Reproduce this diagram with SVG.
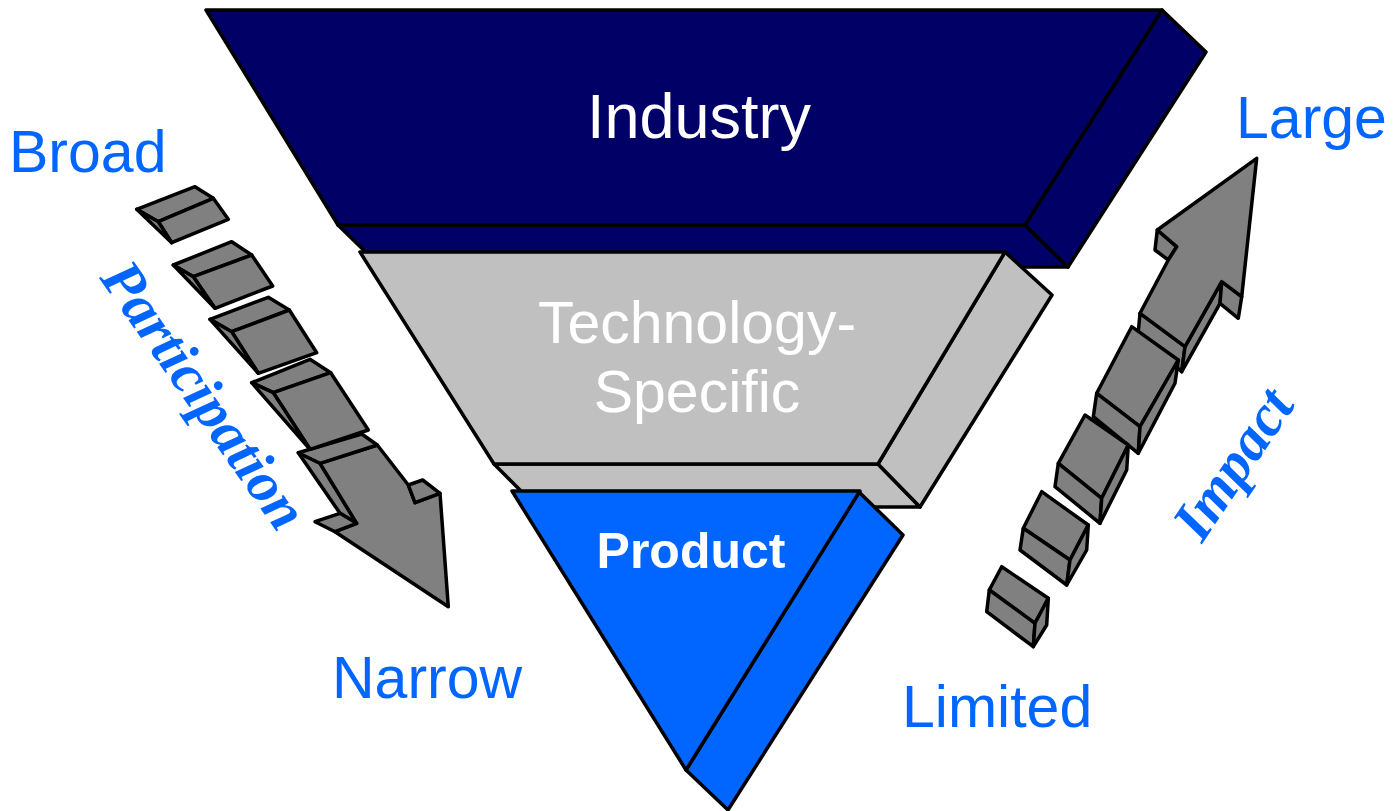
<svg xmlns="http://www.w3.org/2000/svg" width="1395" height="811" viewBox="0 0 1395 811">
<style>
.s{stroke:#000;stroke-width:3.5;stroke-linejoin:round}
.navy{fill:#000066}
.lg{fill:#C0C0C0}
.bl{fill:#0066FF}
.dg{fill:#808080}
.lbl{font-family:"Liberation Sans",Arial,sans-serif;fill:#0066FF;font-size:59px}
.in{font-family:"Liberation Sans",Arial,sans-serif;fill:#FFFFFF;text-anchor:middle}
.ax{font-family:"Liberation Serif","Times New Roman",serif;font-weight:bold;font-style:italic;fill:#0066FF;font-size:58px}
</style>
<rect width="1395" height="811" fill="#FFFFFF"/>
<g id="industry">
<polygon class="s navy" points="338,225 1025,225 1068,267 381,267"/>
<polygon class="s navy" points="1162,10 1206,52 1068,267 1025,225"/>
<polygon class="s navy" points="206,10 1162,10 1025,225 338,225"/>
<text class="in" x="699" y="138" font-size="63">Industry</text>
</g>
<g id="technology">
<polygon class="s lg" points="494,464 878,464 920,507 537,507"/>
<polygon class="s lg" points="1005,252 1052,295 920,507 878,464"/>
<polygon class="s lg" points="360,252 1005,252 878,464 494,464"/>
<text class="in" x="697" y="343" font-size="59">Technology-</text>
<text class="in" x="697" y="412" font-size="59">Specific</text>
</g>
<g id="product">
<polygon class="s bl" points="859,492 903,535 728,810 686,770"/>
<polygon class="s bl" points="512,491 860,491 686,770"/>
<text class="in" x="691" y="568" font-size="50" font-weight="bold">Product</text>
</g>
<g id="participation-arrow">
<polygon class="s dg" points="298.3,452.7 320,463.3 356.7,523.3 340,513.3"/>
<polygon class="s dg" points="320,463.3 377.3,445 408.3,485 415,502.7 440,493.3 448.3,606.7 335,531.7 356.7,523.3"/>
<polygon class="s dg" points="298.3,452.7 361.7,434 377.3,445 320,463.3"/>
<polygon class="s dg" points="315,521.7 340,513.3 356.7,523.3 335,531.7"/>
<polygon class="s dg" points="408.3,485 422.7,480 440,493.3 415,502.7"/>
<polygon class="s dg" points="251.7,382.7 310,359.3 330.7,372.7 273.3,392.7"/>
<polygon class="s dg" points="273.3,392.7 330.7,372.7 368.3,430 310,449.3"/>
<polygon class="s dg" points="251.7,382.7 273.3,392.7 310,449.3"/>
<polygon class="s dg" points="210,319.3 268.3,297.3 289.3,310 231.7,331.7"/>
<polygon class="s dg" points="231.7,331.7 289.3,310 316.7,352.7 258.3,373.3"/>
<polygon class="s dg" points="210,319.3 231.7,331.7 258.3,373.3"/>
<polygon class="s dg" points="173.3,265 231.7,241.7 251.7,255 193.3,276.7"/>
<polygon class="s dg" points="193.3,276.7 251.7,255 272.7,286 215,308.3"/>
<polygon class="s dg" points="173.3,265 193.3,276.7 215,308.3"/>
<polygon class="s dg" points="136.7,209.3 195,186.7 213.3,198.3 158.3,221.7"/>
<polygon class="s dg" points="158.3,221.7 213.3,198.3 228.3,219.3 171.7,242.7"/>
<polygon class="s dg" points="136.7,209.3 158.3,221.7 171.7,242.7"/>
</g>
<g id="impact-arrow">
<polygon class="s dg" points="1140,313.3 1185,346.7 1181.7,371.7 1138.3,331.7"/>
<polygon class="s dg" points="1185,346.7 1221.7,281.7 1220,303.3 1181.7,371.7"/>
<polygon class="s dg" points="1221.7,281.7 1241.7,296.7 1238.3,318.3 1220,303.3"/>
<polygon class="s dg" points="1157.3,230 1176.7,246.7 1168.3,260 1155,250"/>
<polygon class="s dg" points="1256.7,158.3 1157.3,230 1176.7,246.7 1168.3,260 1140,313.3 1185,346.7 1221.7,281.7 1241.7,296.7"/>
<polygon class="s dg" points="1131.7,326.7 1178.3,360 1140,426.7 1096.7,393.3"/>
<polygon class="s dg" points="1096.7,393.3 1140,426.7 1138.3,453.3 1093.3,416.7"/>
<polygon class="s dg" points="1178.3,360 1175,383.3 1138.3,453.3 1140,426.7"/>
<polygon class="s dg" points="1085,415 1128.3,445 1101.7,498.3 1058.3,463.3"/>
<polygon class="s dg" points="1058.3,463.3 1101.7,498.3 1100,523.3 1055,486.7"/>
<polygon class="s dg" points="1128.3,445 1126.7,470 1100,523.3 1101.7,498.3"/>
<polygon class="s dg" points="1041.7,491.7 1088.3,525 1070,560 1023.3,528.3"/>
<polygon class="s dg" points="1023.3,528.3 1070,560 1066.7,585 1020,550"/>
<polygon class="s dg" points="1088.3,525 1086.7,550 1066.7,585 1070,560"/>
<polygon class="s dg" points="1001.7,566.7 1048.3,598.3 1035,623.3 989.3,590"/>
<polygon class="s dg" points="989.3,590 1035,623.3 1033.3,646.7 986.7,611.7"/>
<polygon class="s dg" points="1048.3,598.3 1046.7,625 1033.3,646.7 1035,623.3"/>
</g>
<g id="labels">
<text class="lbl" x="9" y="172">Broad</text>
<text class="lbl" x="332" y="698">Narrow</text>
<text class="lbl" x="1236" y="138">Large</text>
<text class="lbl" x="902" y="727">Limited</text>
<text class="ax" transform="translate(99,278) rotate(55)">Participation</text>
<text class="ax" transform="translate(1202,544) rotate(-56)">Impact</text>
</g>
</svg>
